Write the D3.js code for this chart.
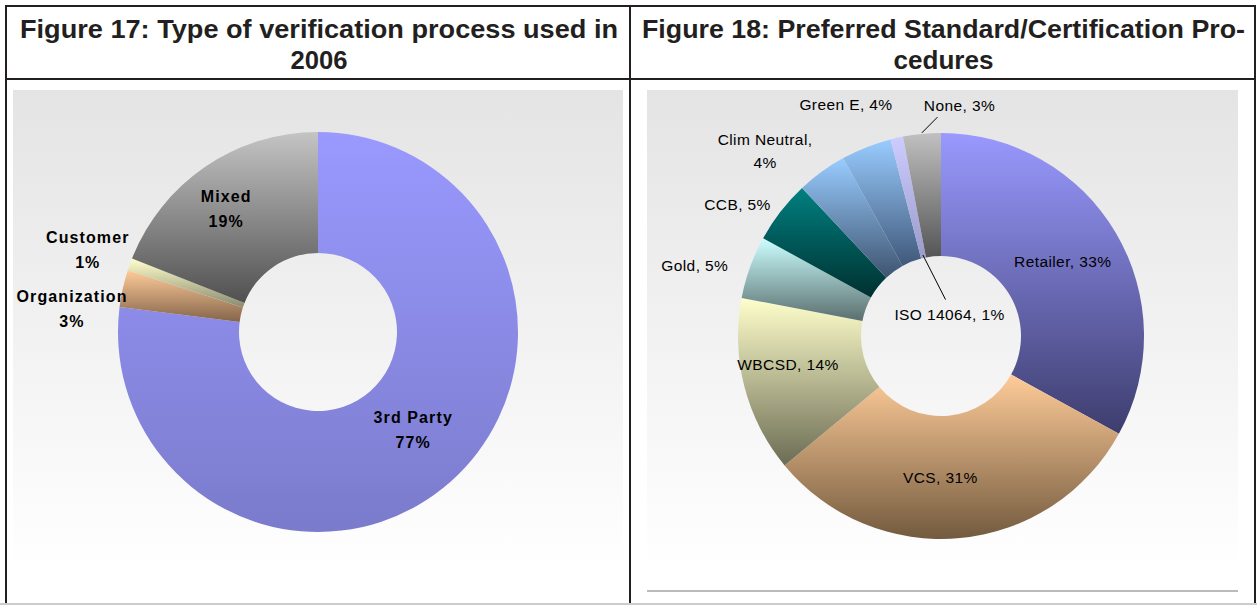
<!DOCTYPE html>
<html>
<head>
  <meta charset="utf-8">
  <title>Verification process / certification procedures</title>
  <script src="https://cdn.jsdelivr.net/npm/d3@7"></script>
  <style>
    body { margin: 0; background: #fff; }
    svg { display: block; font-family: "Liberation Sans", Arial, sans-serif; }
  </style>
</head>
<body>
  <svg id="chart" width="1257" height="605"></svg>
  <script>
    // data
    var verifCategories = ["3rd Party", "Organization", "Customer", "Mixed"];
    var verifValues = [77, 3, 1, 19];
    var certCategories = ["Retailer", "VCS", "WBCSD", "Gold", "CCB", "Clim Neutral", "Green E", "ISO 14064", "None"];
    var certValues = [33, 31, 14, 5, 5, 4, 4, 1, 3];

    // styles (top colour, bottom colour of the gradient)
    var verifColors = [["#9999ff", "#7b7bcc"], ["#ffcc99", "#84644a"], ["#ffffcc", "#8a8a70"], ["#c4c4c4", "#505050"]];
    var certColors = [["#9999ff", "#3d3d6e"], ["#ffcc99", "#735a3e"], ["#ffffcc", "#6c6c54"], ["#ccffff", "#5a6e6e"],
      ["#008080", "#003030"], ["#99ccff", "#3e5470"], ["#99ccff", "#40587a"], ["#ccccff", "#9a9acc"], ["#c0c0c0", "#555555"]];

    var svg = d3.select("#chart");
    var defs = svg.append("defs");

    // frame
    var frame = svg.append("g").attr("stroke", "#231f20").attr("stroke-width", 2);
    frame.append("line").attr("x1", 5).attr("x2", 1256).attr("y1", 6).attr("y2", 6);
    frame.append("line").attr("x1", 5).attr("x2", 1256).attr("y1", 79).attr("y2", 79);
    [6, 630, 1255].forEach(function (x) {
      frame.append("line").attr("x1", x).attr("x2", x).attr("y1", 5).attr("y2", 605);
    });
    svg.append("line").attr("x1", 0).attr("x2", 1257).attr("y1", 604).attr("y2", 604)
      .attr("stroke", "#cccccc").attr("stroke-width", 2);

    // titles
    function title(x0, x1, line1, line2, w2) {
      svg.append("text").attr("x", x0).attr("y", 38)
        .attr("textLength", x1 - x0).attr("lengthAdjust", "spacingAndGlyphs")
        .attr("font-size", 26).attr("font-weight", "bold").attr("fill", "#231f20")
        .text(line1);
      svg.append("text").attr("x", (x0 + x1) / 2 - w2 / 2).attr("y", 69)
        .attr("textLength", w2).attr("lengthAdjust", "spacingAndGlyphs")
        .attr("font-size", 26).attr("font-weight", "bold").attr("fill", "#231f20")
        .text(line2);
    }
    title(20, 618, "Figure 17: Type of verification process used in", "2006", 57);
    title(642, 1245, "Figure 18: Preferred Standard/Certification Pro-", "cedures", 100);

    // panel backgrounds
    var bg = defs.append("linearGradient").attr("id", "panelbg")
      .attr("x1", 0).attr("y1", 0).attr("x2", 0).attr("y2", 1);
    bg.append("stop").attr("offset", 0).attr("stop-color", "#e4e4e4");
    bg.append("stop").attr("offset", 1).attr("stop-color", "#ffffff");
    svg.append("rect").attr("x", 13).attr("y", 90).attr("width", 610).attr("height", 480).attr("fill", "url(#panelbg)");
    svg.append("rect").attr("x", 647).attr("y", 90).attr("width", 591).attr("height", 480).attr("fill", "url(#panelbg)");
    svg.append("line").attr("x1", 647).attr("x2", 1238).attr("y1", 591).attr("y2", 591)
      .attr("stroke", "#bbbbbb").attr("stroke-width", 2);

    function drawDonut(opts) {
      var data = opts.categories.map(function (c, i) { return { name: c, value: opts.values[i] }; });
      var pie = d3.pie().sort(null).value(function (d) { return d.value; });
      var arcs = pie(data);
      var arc = d3.arc().innerRadius(opts.inner).outerRadius(opts.outer);
      var g = svg.append("g").attr("transform", "translate(" + opts.cx + "," + opts.cy + ")");

      arcs.forEach(function (a, i) {
        var gr = defs.append("linearGradient").attr("id", opts.id + "g" + i)
          .attr("x1", 0).attr("y1", 0).attr("x2", 0).attr("y2", 1);
        gr.append("stop").attr("offset", 0).attr("stop-color", opts.colors[i][0]);
        gr.append("stop").attr("offset", 1).attr("stop-color", opts.colors[i][1]);
      });

      g.selectAll("path").data(arcs).enter().append("path")
        .attr("d", arc)
        .attr("fill", function (d, i) { return "url(#" + opts.id + "g" + i + ")"; });

      arcs.forEach(function (a, i) {
        var mid = (a.startAngle + a.endAngle) / 2;
        var r = opts.labelR[i] == null ? (opts.inner + opts.outer) / 2 : opts.labelR[i];
        var nudge = opts.nudge[i];
        var x = Math.sin(mid) * r + nudge[0];
        var y = -Math.cos(mid) * r + nudge[1];
        var lines = opts.labelLines(a.data, i);
        var t = g.append("text").attr("text-anchor", "middle")
          .attr("font-size", opts.fontSize).attr("font-weight", opts.fontWeight)
          .attr("letter-spacing", opts.spacing).attr("fill", "#000");
        lines.forEach(function (l, k) {
          t.append("tspan").attr("x", x)
            .attr("y", y + (k - (lines.length - 1) / 2) * opts.lineH + opts.fontSize * 0.35)
            .text(l);
        });
        var lead = opts.leader && opts.leader[i];
        if (lead) {
          g.append("line")
            .attr("x1", Math.sin(mid) * lead[0]).attr("y1", -Math.cos(mid) * lead[0])
            .attr("x2", x + lead[1]).attr("y2", y + lead[2])
            .attr("stroke", "#000").attr("stroke-width", 1);
        }
      });
    }

    drawDonut({
      id: "v", cx: 318, cy: 332, inner: 79, outer: 200,
      categories: verifCategories, values: verifValues, colors: verifColors,
      fontSize: 16, fontWeight: "bold", spacing: 1.1, lineH: 25,
      labelR: [null, 250, 250, 149],
      nudge: [[3, -7], [-2, 31], [5, 3], [-8, 0]],
      labelLines: function (d) { return [d.name, d.value + "%"]; }
    });

    drawDonut({
      id: "c", cx: 941, cy: 336, inner: 80, outer: 203,
      categories: certCategories, values: certValues, colors: certColors,
      fontSize: 15.5, fontWeight: "normal", spacing: 0.4, lineH: 23,
      labelR: [null, null, null, 250, 250, 250, 250, 25, 250],
      nudge: [[0, -2], [-14, 1], [-16, -7], [-11, 14], [-6, 22], [-29, 17], [-3, 1], [14, 3], [42, 18]],
      leader: [null, null, null, null, null, null, null, [83, -4, -15], [204, -22, 12]],
      labelLines: function (d) {
        var s = d.name + ", " + d.value + "%";
        return d.name === "Clim Neutral" ? [d.name + ",", d.value + "%"] : [s];
      }
    });
  </script>
</body>
</html>
